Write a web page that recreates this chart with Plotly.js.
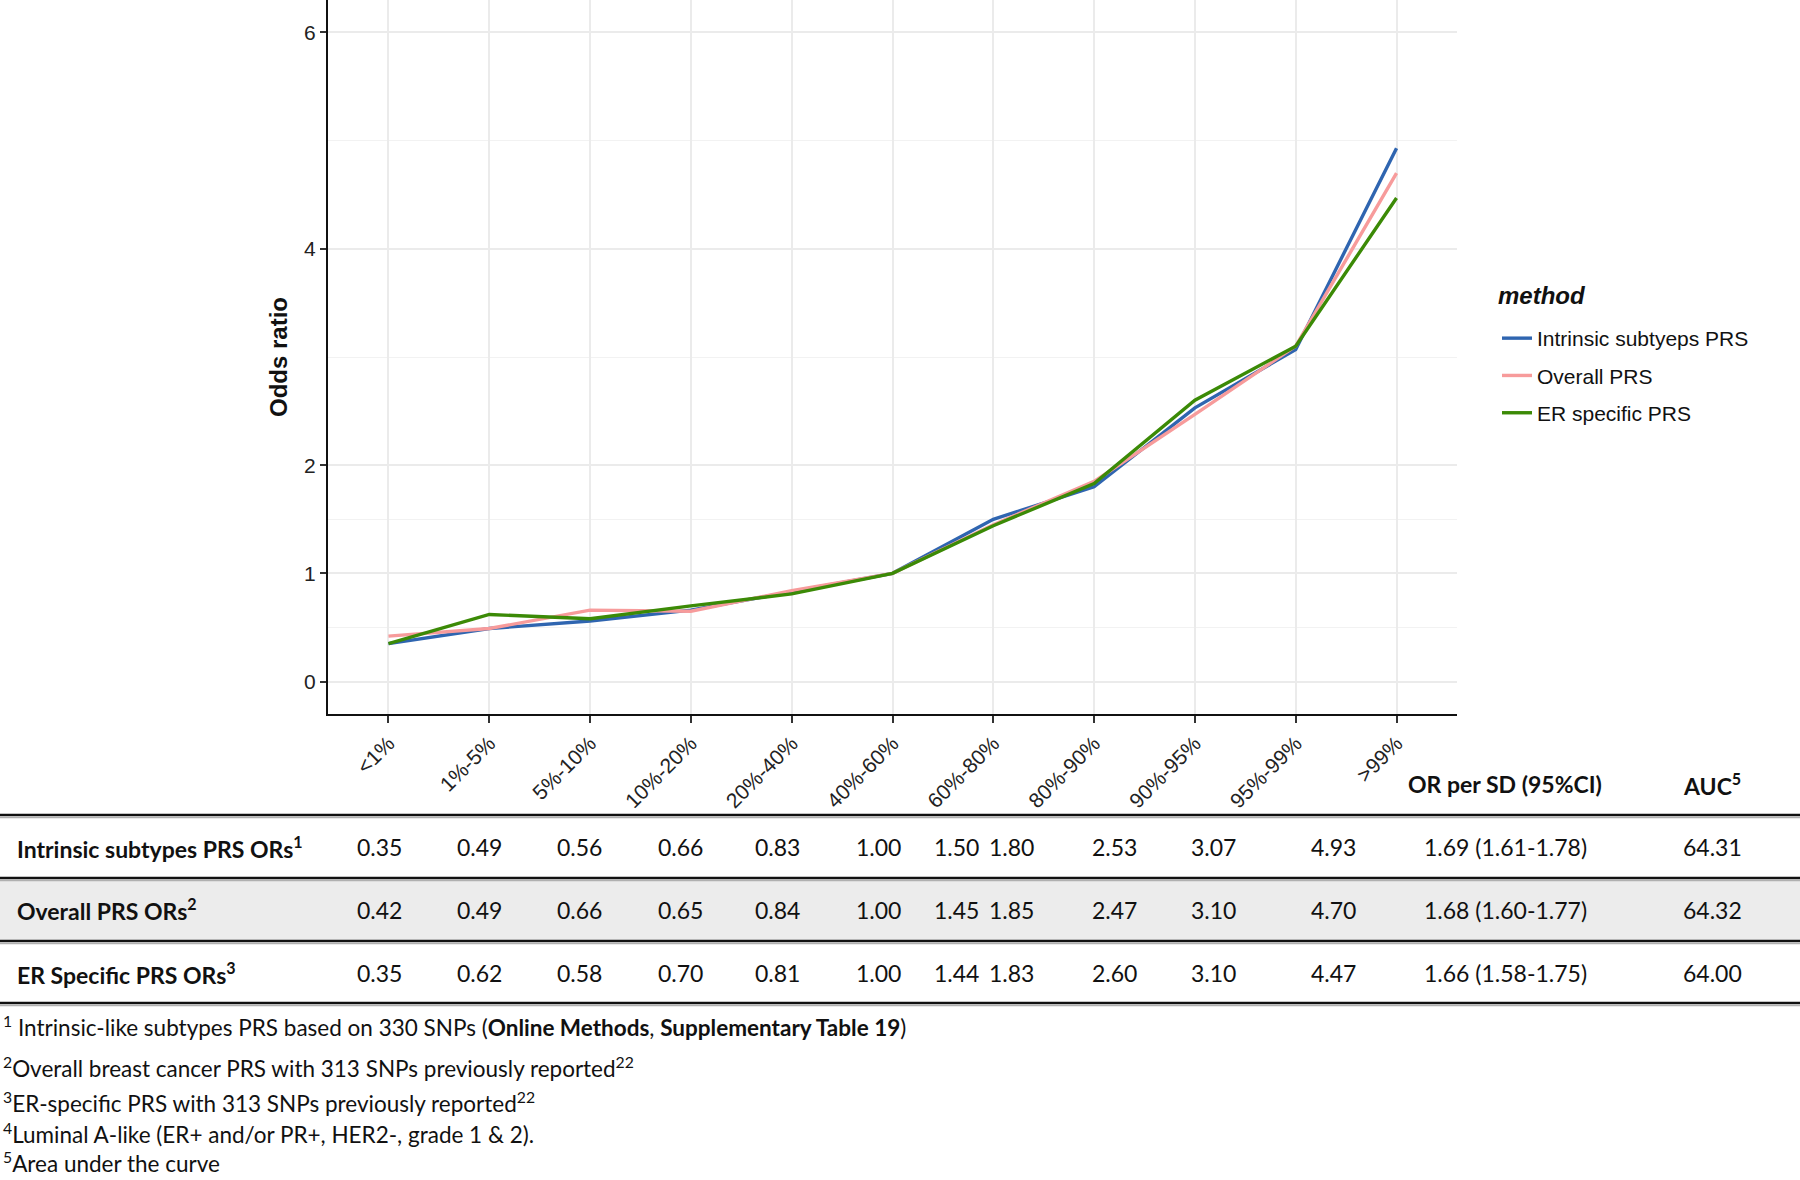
<!DOCTYPE html>
<html>
<head>
<meta charset="utf-8">
<script src="https://cdn.plot.ly/plotly-3.0.1.min.js"></script>
<style>
  html, body { margin: 0; padding: 0; background: white; }
  #chart { width: 1800px; height: 1180px; }
</style>
</head>
<body>
<div id="chart"></div>
<script>
const categories = ['<1%', '1%-5%', '5%-10%', '10%-20%', '20%-40%', '40%-60%',
                    '60%-80%', '80%-90%', '90%-95%', '95%-99%', '>99%'];
const intrinsicOR = [0.35, 0.49, 0.56, 0.66, 0.83, 1.00, 1.50, 1.80, 2.53, 3.07, 4.93];
const overallOR   = [0.42, 0.49, 0.66, 0.65, 0.84, 1.00, 1.45, 1.85, 2.47, 3.10, 4.70];
const erOR        = [0.35, 0.62, 0.58, 0.70, 0.81, 1.00, 1.44, 1.83, 2.60, 3.10, 4.47];
const seriesNames = ['Intrinsic subtyeps PRS', 'Overall PRS', 'ER specific PRS'];
const rowLabels = ['Intrinsic subtypes PRS ORs<sup>1</sup>', 'Overall PRS ORs<sup>2</sup>',
                   'ER Specific PRS ORs<sup>3</sup>'];
const orPerSD = ['1.69 (1.61-1.78)', '1.68 (1.60-1.77)', '1.66 (1.58-1.75)'];
const auc = ['64.31', '64.32', '64.00'];
const yTicks = [0, 1, 2, 4, 6];
const yMinor = [0.5, 1.5, 3, 5];
const footnotes = [
    '<sup>1</sup> Intrinsic-like subtypes PRS based on 330 SNPs (<b>Online Methods</b>, <b>Supplementary Table 19</b>)',
    '<sup>2</sup>Overall breast cancer PRS with 313 SNPs previously reported<sup>22</sup>',
    '<sup>3</sup>ER-specific PRS with 313 SNPs previously reported<sup>22</sup>',
    '<sup>4</sup>Luminal A-like (ER+ and/or PR+, HER2-, grade 1 & 2).',
    '<sup>5</sup>Area under the curve'
];

const colors = ['#2f65b0', '#f79b9b', '#3b8a06'];

// page layout (pixels)
const L = 328, PW = 1129, PH = 714;
const px = x => (x - L) / PW;
const py = y => (PH - y) / PH;

const colX = [379, 479, 579, 680, 777, 878, 956, 1011, 1114, 1213, 1333];
const orX = 1505, aucX = 1712;
const headerY = 784;
const rowY = [847, 910, 973];
const ruleY = [815, 878, 941, 1003];
const noteY = [1026, 1067, 1102, 1133, 1162];

const tableFont = { family: 'Lato, "Liberation Sans", sans-serif', size: 23, color: '#111' };
const noteFont = { family: 'Lato, "Liberation Sans", sans-serif', size: 22.5, color: '#111' };

const traces = [intrinsicOR, overallOR, erOR].map((vals, i) => ({
    x: categories,
    y: vals,
    type: 'scatter',
    mode: 'lines',
    name: seriesNames[i],
    legendgroup: 'g' + i,
    line: { color: colors[i], width: 3.4 }
}));

const annotations = [];
function addText(x, y, text, anchor, font) {
    annotations.push({
        xref: 'paper', yref: 'paper', x: px(x), y: py(y),
        text: text, showarrow: false, xanchor: anchor, yanchor: 'middle',
        align: anchor === 'left' ? 'left' : 'center',
        borderpad: 0,
        font: font || tableFont
    });
}

// legend title
addText(1497, 295, '<b><i>method</i></b>', 'left',
        { family: '"Liberation Sans", Arial, sans-serif', size: 24, color: '#111' });

addText(orX, headerY, '<b>OR per SD (95%CI)</b>', 'center');
addText(aucX, headerY, '<b>AUC<sup>5</sup></b>', 'center');

const allRows = [intrinsicOR, overallOR, erOR];
allRows.forEach((vals, r) => {
    addText(16, rowY[r], '<b>' + rowLabels[r] + '</b>', 'left');
    vals.forEach((v, i) => addText(colX[i], rowY[r], v.toFixed(2), 'center'));
    addText(orX, rowY[r], orPerSD[r], 'center');
    addText(aucX, rowY[r], auc[r], 'center');
});

footnotes.forEach((t, i) => addText(2, noteY[i], t, 'left', noteFont));

const shapes = [{
    type: 'rect', xref: 'paper', yref: 'paper',
    x0: px(0), x1: px(1800), y0: py(ruleY[1]), y1: py(ruleY[2]),
    fillcolor: '#ececec', line: { width: 0 }, layer: 'below'
}];
ruleY.forEach(y => {
    shapes.push({
        type: 'line', xref: 'paper', yref: 'paper',
        x0: px(0), x1: px(1800), y0: py(y), y1: py(y),
        line: { color: '#111', width: 2.5 }
    });
    shapes.push({
        type: 'line', xref: 'paper', yref: 'paper',
        x0: px(0), x1: px(1800), y0: py(y + 2.5), y1: py(y + 2.5),
        line: { color: '#b0b0b0', width: 1.5 }
    });
});

const layout = {
    width: 1800,
    height: 1180,
    margin: { l: L, r: 1800 - L - PW, t: 0, b: 1180 - PH },
    paper_bgcolor: 'white',
    plot_bgcolor: 'white',
    font: { family: '"Liberation Sans", Arial, sans-serif', color: '#222' },
    showlegend: true,
    legend: {
        x: px(1497), y: py(318), xanchor: 'left', yanchor: 'top',
        font: { size: 21, color: '#111' },
        tracegroupgap: 7,
        bgcolor: 'rgba(0,0,0,0)'
    },
    xaxis: {
        type: 'category',
        range: [-0.6, 10.6],
        showgrid: true,
        gridcolor: '#ebebeb',
        gridwidth: 1.5,
        showline: true,
        linecolor: '#111',
        linewidth: 2,
        ticks: 'outside',
        ticklen: 7,
        tickwidth: 1.5,
        tickcolor: '#333',
        tickangle: -45,
        tickfont: { size: 21, color: '#222' },
        zeroline: false
    },
    yaxis: {
        range: [-0.3, 6.3],
        tickmode: 'array',
        tickvals: yTicks,
        ticktext: yTicks.map(String),
        showgrid: true,
        gridcolor: '#ebebeb',
        gridwidth: 1.5,
        minor: { tickmode: 'array', tickvals: yMinor, showgrid: true, gridcolor: '#f2f2f2', gridwidth: 1, ticks: '' },
        showline: true,
        linecolor: '#111',
        linewidth: 2,
        ticks: 'outside',
        ticklen: 6,
        tickwidth: 1.5,
        tickcolor: '#333',
        tickfont: { size: 21, color: '#222' },
        zeroline: false,
        title: { text: '<b>Odds ratio</b>', font: { size: 24, color: '#111' }, standoff: 10 }
    },
    annotations: annotations,
    shapes: shapes
};

Plotly.newPlot('chart', traces, layout, { displayModeBar: false, responsive: false });
</script>
</body>
</html>
